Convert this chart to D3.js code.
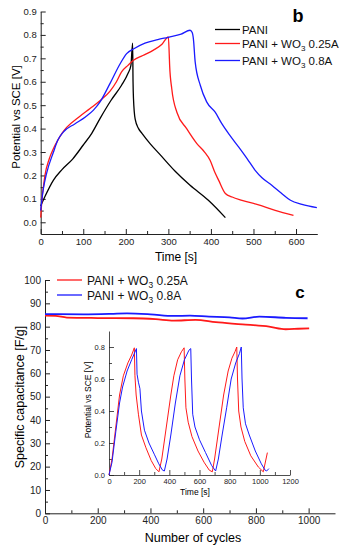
<!DOCTYPE html>
<html><head><meta charset="utf-8">
<script src="https://cdn.jsdelivr.net/npm/d3@7"></script>
<style>
body{margin:0;background:#fff;}
svg{display:block;font-family:"Liberation Sans",Arial,sans-serif;}
</style></head>
<body><svg id="c" width="350" height="550"></svg>
<script>
// ---- Panel b: galvanostatic charge/discharge [time s, potential V]
const paniData = [[0,.07],[10,.11],[30,.18],[50,.225],[75,.27],[100,.33],[120,.38],[140,.445],[165,.52],[190,.585],[205,.635],[212,.67],[216,.765],[217,.6],[218,.53],[222,.44],[230,.40],[238,.38],[257,.336],[280,.29],[316,.218],[351,.158],[394,.094],[434,.02]];
const wo3LowData = [[0,.02],[3,.1],[7,.16],[10,.2],[20,.27],[30,.315],[40,.35],[50,.38],[61,.405],[90,.45],[116,.486],[140,.52],[163,.56],[178,.6],[190,.642],[205,.67],[218,.692],[240,.712],[265,.735],[285,.76],[300,.792],[302,.72],[303,.67],[308,.57],[320,.47],[343,.40],[367,.336],[385,.3],[398,.265],[410,.21],[418,.18],[434,.123],[450,.108],[473,.094],[510,.075],[551,.051],[594,.03]];
const wo3HighData = [[0,.05],[3,.1],[6,.14],[14,.21],[30,.3],[40,.35],[53,.385],[80,.42],[105,.45],[124,.479],[139.5,.514],[163,.593],[187,.678],[202,.72],[220,.742],[245,.765],[275,.78],[300,.79],[330,.803],[351,.82],[356,.81],[359,.78],[363,.685],[375,.585],[390,.514],[410,.47],[426,.42],[445,.37],[465,.322],[485,.272],[504,.222],[520,.19],[543,.158],[565,.125],[587,.094],[614,.077],[649,.063]];
const legendB = ["PANI","PANI + WO|3| 0.25A","PANI + WO|3| 0.8A"];
const xTicksB = [0,100,200,300,400,500,600];
const yTicksB = [0,.1,.2,.3,.4,.5,.6,.7,.8,.9];

// ---- Panel c: specific capacitance vs cycles
const capLow = [[0,84.7],[40,84.6],[83,83.9],[200,83.7],[336,83.6],[420,83.2],[488,82.6],[571,82.9],[648,81.9],[749,81],[850,80],[913,78.9],[960,79.1],[1002,79.3]];
const capHigh = [[0,85.4],[146,85.3],[250,85.5],[311,85.7],[400,85.3],[488,84.6],[550,84.7],[622,84.3],[700,84.0],[749,83.5],[813,84.3],[914,83.8],[996,83.6]];
const legendC = ["PANI + WO|3| 0.25A","PANI + WO|3| 0.8A"];
const xTicksC = [0,200,400,600,800,1000];
const yTicksC = [0,10,20,30,40,50,60,70,80,90,100];

// ---- Inset: cycling charge/discharge [time s, potential V]
const insetLow = [[0,0],[20,0.1],[45,0.3],[70,0.5],[95,0.62],[125,0.7],[150,0.75],[168,0.795],[172,0.62],[180,0.5],[195,0.38],[215,0.25],[245,0.17],[280,0.09],[310,0.04],[331,0.02],[350,0.1],[380,0.3],[410,0.5],[430,0.62],[455,0.72],[480,0.77],[498,0.795],[503,0.6],[510,0.42],[525,0.33],[550,0.24],[590,0.15],[630,0.08],[665,0.03],[685,0.02],[700,0.1],[730,0.3],[760,0.5],[790,0.65],[815,0.73],[835,0.77],[847,0.8],[852,0.6],[860,0.4],[875,0.3],[900,0.21],[940,0.12],[990,0.05],[1023,0.02],[1050,0.14]];
const insetHigh = [[0,0],[20,0.08],[45,0.27],[70,0.45],[90,0.55],[120,0.65],[150,0.72],[182,0.79],[186,0.63],[195,0.58],[205,0.54],[215,0.4],[235,0.28],[265,0.2],[300,0.13],[330,0.07],[355,0.03],[367,0.025],[385,0.1],[410,0.25],[440,0.45],[470,0.62],[500,0.72],[530,0.78],[542,0.79],[547,0.6],[555,0.38],[570,0.3],[600,0.22],[640,0.14],[680,0.06],[707,0.025],[725,0.1],[750,0.25],[780,0.42],[810,0.6],[840,0.7],[865,0.76],[877,0.8],[882,0.6],[890,0.42],[905,0.32],[930,0.25],[970,0.15],[1010,0.07],[1035,0.03],[1045,0.025],[1060,0.04]];
const xTicksI = [0,200,400,600,800,1000,1200];
const yTicksI = [0,.2,.4,.6,.8];

const RED = "#ff1a1a", BLUE = "#1a1aff", BLACK = "#000";
const svg = d3.select("#c");

function axes(g, x, y, xt, xminor, yt, yminor, fs, yfmt) {
  g.append("g").attr("transform",`translate(0,${y.range()[0]})`)
    .call(d3.axisBottom(x).tickValues(xt).tickSize(-5).tickSizeOuter(0).tickPadding(4).tickFormat(d3.format("d")));
  g.append("g").attr("transform",`translate(0,${y.range()[0]})`)
    .call(d3.axisBottom(x).tickValues(xminor).tickSize(-3).tickFormat("")).select(".domain").remove();
  g.append("g").attr("transform",`translate(${x.range()[0]},0)`)
    .call(d3.axisLeft(y).tickValues(yt).tickSize(-5).tickSizeOuter(0).tickPadding(4).tickFormat(yfmt));
  g.append("g").attr("transform",`translate(${x.range()[0]},0)`)
    .call(d3.axisLeft(y).tickValues(yminor).tickSize(-3).tickFormat("")).select(".domain").remove();
  g.selectAll(".tick text").attr("font-size",fs).attr("font-family","Liberation Sans, Arial, sans-serif").attr("fill","#222");
  g.selectAll(".domain,.tick line").attr("stroke","#222");
}
function legendText(sel, label, fs) {
  const parts = label.split("|");
  sel.append("tspan").text(parts[0]);
  if (parts.length > 1) {
    sel.append("tspan").attr("font-size", fs*0.7).attr("dy", fs*0.28).text(parts[1]);
    sel.append("tspan").attr("dy", -fs*0.28).text(parts[2]);
  }
}

// ===== Panel b =====
const xb = d3.scaleLinear().domain([0,650]).range([40.7,317.3]);
const yb = d3.scaleLinear().domain([-0.05,0.9]).range([234,11.5]);
const gb = svg.append("g");
axes(gb, xb, yb, xTicksB, d3.range(50,650,100), yTicksB, d3.range(0.05,0.9,0.1), 9.5, d3.format(".1f"));
const lineB = d3.line().x(d=>xb(d[0])).y(d=>yb(d[1])).curve(d3.curveMonotoneX);
[[paniData,BLACK],[wo3LowData,RED],[wo3HighData,BLUE]].forEach(([d,c])=>{
  gb.append("path").attr("d",lineB(d)).attr("fill","none").attr("stroke",c).attr("stroke-width",1.3);
});
gb.append("text").attr("x",176).attr("y",261).attr("text-anchor","middle").attr("font-size",12).text("Time [s]");
gb.append("text").attr("transform","translate(20,117) rotate(-90)").attr("text-anchor","middle").attr("font-size",11.5).text("Potential vs SCE [V]");
gb.append("text").attr("x",298).attr("y",22).attr("text-anchor","middle").attr("font-size",18).attr("font-weight","bold").text("b");
const legYB = [29.5,43.5,60.5];
legendB.forEach((l,i)=>{
  const c = [BLACK,RED,BLUE][i];
  gb.append("line").attr("x1",215).attr("x2",240).attr("y1",legYB[i]).attr("y2",legYB[i]).attr("stroke",c).attr("stroke-width",1.3);
  legendText(gb.append("text").attr("x",242).attr("y",legYB[i]+4).attr("font-size",11.5).attr("fill","#111"), l, 11.5);
});

// ===== Panel c =====
const xc = d3.scaleLinear().domain([0,1100]).range([45,335]);
const yc = d3.scaleLinear().domain([0,100]).range([513.3,280]);
const gc = svg.append("g");
axes(gc, xc, yc, xTicksC, d3.range(100,1100,200), yTicksC, d3.range(5,100,10), 10, d3.format("d"));
const lineC = d3.line().x(d=>xc(d[0])).y(d=>yc(d[1])).curve(d3.curveMonotoneX);
[[capLow,RED],[capHigh,BLUE]].forEach(([d,c])=>{
  gc.append("path").attr("d",lineC(d)).attr("fill","none").attr("stroke",c).attr("stroke-width",1.8);
});
gc.append("text").attr("x",193).attr("y",542).attr("text-anchor","middle").attr("font-size",12.5).text("Number of cycles");
gc.append("text").attr("transform","translate(24,397) rotate(-90)").attr("text-anchor","middle").attr("font-size",12.5).text("Specific capacitance [F/g]");
gc.append("text").attr("x",300).attr("y",298).attr("text-anchor","middle").attr("font-size",17).attr("font-weight","bold").text("c");
const legYC = [280,295];
legendC.forEach((l,i)=>{
  const c = [RED,BLUE][i];
  gc.append("line").attr("x1",57).attr("x2",82).attr("y1",legYC[i]).attr("y2",legYC[i]).attr("stroke",c).attr("stroke-width",1.3);
  legendText(gc.append("text").attr("x",87).attr("y",legYC[i]+4.5).attr("font-size",12).attr("fill","#111"), l, 12);
});

// ===== Inset =====
const xi = d3.scaleLinear().domain([0,1200]).range([109,290]);
const yi = d3.scaleLinear().domain([0,0.9]).range([475,331]);
const gi = svg.append("g");
axes(gi, xi, yi, xTicksI, d3.range(100,1200,200), yTicksI, d3.range(0.1,0.9,0.2), 7.5, d3.format(".1f"));
gi.selectAll(".tick line").attr("stroke-width",0.8);
gi.selectAll(".domain").attr("stroke-width",0.8);
const lineI = d3.line().x(d=>xi(d[0])).y(d=>yi(d[1]));
[[insetLow,RED],[insetHigh,BLUE]].forEach(([d,c])=>{
  gi.append("path").attr("d",lineI(d)).attr("fill","none").attr("stroke",c).attr("stroke-width",1);
});
gi.append("text").attr("x",195).attr("y",495).attr("text-anchor","middle").attr("font-size",8.5).text("Time [s]");
gi.append("text").attr("transform","translate(91,400) rotate(-90)").attr("text-anchor","middle").attr("font-size",8.5).text("Potential vs SCE [V]");
</script></body></html>
